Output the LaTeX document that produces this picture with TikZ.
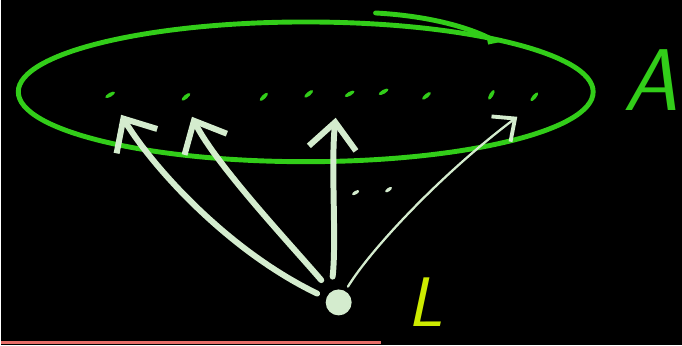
\documentclass[tikz,border=0pt]{standalone}
\usepackage{tikz}
\usetikzlibrary{arrows.meta, shapes.geometric}
\usepackage{xcolor}
\definecolor{setgreen}{RGB}{50,205,25}
\definecolor{chalk}{RGB}{212,236,206}
\definecolor{lyellow}{RGB}{205,235,0}
\definecolor{rulered}{RGB}{230,110,105}

\begin{document}
\begin{tikzpicture}[x=0.02cm, y=-0.02cm,
  every node/.style={inner sep=0pt},
  elem/.style={ellipse, fill=setgreen, minimum width=0.22cm, minimum height=0.08cm},
  arrowline/.style={chalk, line width=3.4pt, line cap=round, -{Straight Barb[length=15pt, width=27pt]}},
  thinline/.style={chalk, line width=1.3pt, line cap=round, -{Straight Barb[length=10pt, width=18pt, line width=2.2pt]}},
  setline/.style={setgreen, line width=2.8pt},
  lbl/.style={font=\sffamily\slshape\fontsize{50}{50}\selectfont}]
\fill[black] (0,0) rectangle (682,346);
% the set A
\draw[setline] (305,92) ellipse [x radius=288, y radius=70];
\draw[setline, line cap=round, -{Straight Barb[right, length=3pt, width=5pt]}] (375,13) .. controls (430,16) and (470,28) .. (500,44);
\node[lbl, text=setgreen] (labA) at (651,80) {A};
% its elements
\foreach \x/\y/\a [count=\i] in {109/95/30, 185/97/40, 263/97/45, 308/94/40, 349/94/30, 383/92/30, 426/96/40, 491/95/60, 534/97/50}
  \node[elem, rotate=\a] (p\i) at (\x,\y) {};
% the point L
\node[circle, fill=chalk, minimum size=0.52cm] (lpt) at (338,303) {};
\node[lbl, text=lyellow, font=\sffamily\slshape\fontsize{40}{40}\selectfont] (labL) at (425,303) {L};
\coordinate (h1) at (120,115);
\coordinate (h2) at (191,117);
\coordinate (h3) at (335,118);
\coordinate (h4) at (517,117);
\draw[arrowline, shorten <=0.2cm] (lpt.160) .. controls (225,250) and (150,165) .. (h1);
\draw[arrowline, shorten <=0.3cm] (lpt.125) .. controls (290,245) and (215,165) .. (h2);
\draw[arrowline, shorten <=0.3cm] (lpt.125) .. controls (336,240) and (330,165) .. (h3);
\draw[thinline, shorten <=0.1cm] (lpt.60) .. controls (370,250) and (440,175) .. (h4);
\node[elem, fill=chalk, minimum width=0.16cm, minimum height=0.07cm, rotate=30] (d1) at (355,193) {};
\node[elem, fill=chalk, minimum width=0.16cm, minimum height=0.07cm, rotate=35] (d2) at (388,190) {};
\draw[rulered, line width=1.5pt] (0,343) -- (380,343);
\end{tikzpicture}
\end{document}
